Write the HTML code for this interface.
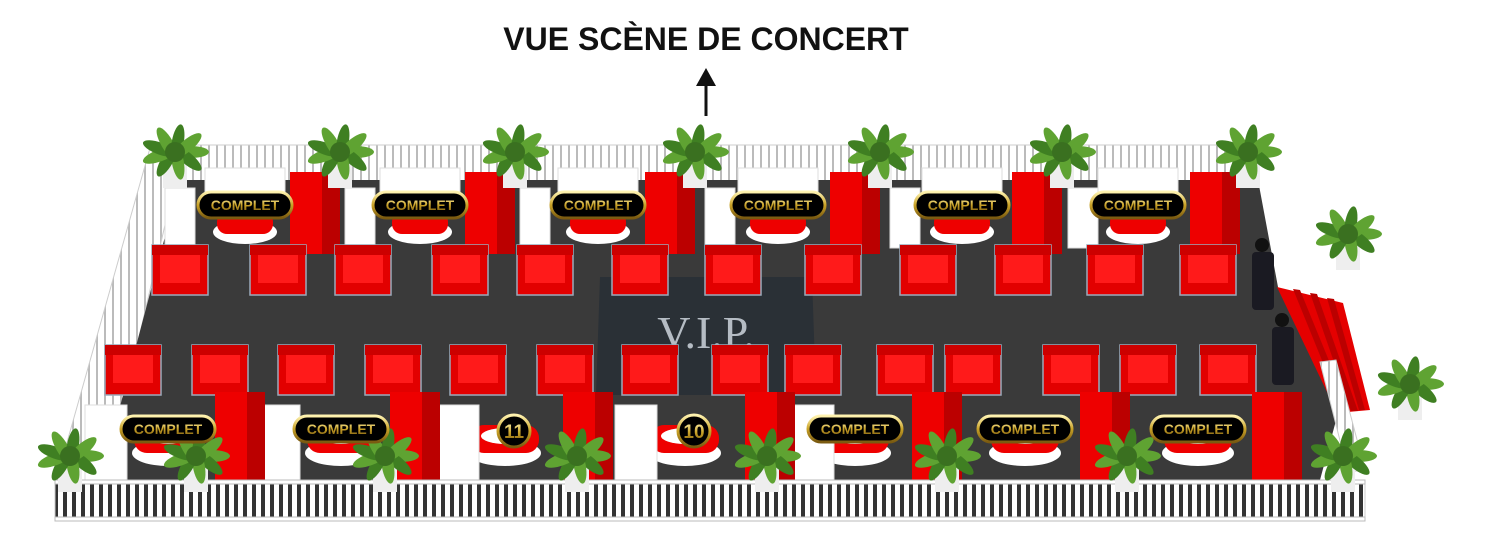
<!DOCTYPE html>
<html><head><meta charset="utf-8"><style>
html,body{margin:0;padding:0;background:#fff;width:1485px;height:557px;overflow:hidden}
svg{display:block}
.t{font-family:"Liberation Sans",sans-serif;font-weight:bold}
</style></head><body>
<svg id="s" width="1485" height="557" viewBox="0 0 1485 557" xmlns="http://www.w3.org/2000/svg">
<defs>
<linearGradient id="gold" x1="0" y1="0" x2="0" y2="1"><stop offset="0" stop-color="#fff3b0"/><stop offset=".5" stop-color="#c9a227"/><stop offset="1" stop-color="#7a5a10"/></linearGradient>
<pattern id="rail" width="8" height="10" patternUnits="userSpaceOnUse"><rect width="8" height="10" fill="#fff"/><rect x="0" width="2" height="10" fill="#bbb"/></pattern>
<pattern id="railD" width="9" height="10" patternUnits="userSpaceOnUse"><rect width="9" height="10" fill="#fff"/><rect x="0" width="4" height="10" fill="#333"/></pattern>
</defs>
<text x="706" y="50" text-anchor="middle" class="t" font-size="32" fill="#111">VUE SCÈNE DE CONCERT</text>
<line x1="706" y1="116" x2="706" y2="82" stroke="#111" stroke-width="3"/>
<polygon points="696,86 706,68 716,86" fill="#111"/>
<rect x="155" y="145" width="1100" height="38" fill="url(#rail)" stroke="#ccc"/>
<polygon points="150,148 180,160 105,485 55,485" fill="url(#rail)" stroke="#ccc"/>
<polygon points="180,180 1258,180 1278,287 1338,413 1320,480 100,482" fill="#3a3a3a"/>
<!-- stairs -->
<polygon points="1277,287 1343,303 1370,410 1337,413" fill="#e50000"/>
<polygon points="1293,289 1300,290 1350,412 1343,412" fill="#b00"/>
<polygon points="1310,293 1317,294 1358,411 1351,411" fill="#b00"/>
<polygon points="1327,298 1334,299 1365,410 1359,410" fill="#b00"/>
<polygon points="1320,362 1336,360 1365,470 1348,472" fill="url(#rail)" stroke="#ccc"/>
<polygon points="600,277 812,277 816,395 596,395" fill="#2a3036"/>
<text x="706" y="348" text-anchor="middle" font-family="Liberation Serif,serif" font-size="46" fill="#b5bcc4">V.I.P.</text>
<g id="g"></g>
<rect x="55" y="482" width="1310" height="38" fill="url(#railD)" stroke="#ccc"/>
<rect x="55" y="480" width="1310" height="4" fill="#fff" stroke="#bbb"/>
<rect x="55" y="517" width="1310" height="4" fill="#fff" stroke="#bbb"/>
<g id="p"></g>
<g id="b"></g>
<g class="t" font-size="14" fill="url(#gold)" text-anchor="middle">
<text x="245" y="210">COMPLET</text><text x="420" y="210">COMPLET</text><text x="598" y="210">COMPLET</text>
<text x="778" y="210">COMPLET</text><text x="962" y="210">COMPLET</text><text x="1138" y="210">COMPLET</text>
<text x="168" y="434">COMPLET</text><text x="341" y="434">COMPLET</text><text x="855" y="434">COMPLET</text>
<text x="1025" y="434">COMPLET</text><text x="1198" y="434">COMPLET</text>
<text x="514" y="438" font-size="19">11</text><text x="694" y="438" font-size="19">10</text>
</g>
</svg>
<script>
const NS="http://www.w3.org/2000/svg";
function el(p,t,a){const e=document.createElementNS(NS,t);for(const k in a)e.setAttribute(k,a[k]);document.getElementById(p).appendChild(e);return e;}
[245,420,598,778,962,1138].forEach(x=>{
 el('g','rect',{x:x-40,y:168,width:80,height:24,fill:'#fff',stroke:'#ddd'});
 el('g','ellipse',{cx:x,cy:232,rx:32,ry:12,fill:'#fff'});
 el('g','rect',{x:x-28,y:212,width:56,height:22,rx:10,fill:'#e00'});
});
[165,345,520,705,890,1068].forEach(x=>el('g','rect',{x:x,y:188,width:30,height:60,fill:'#fff',stroke:'#ddd'}));
[290,465,645,830,1012,1190].forEach(x=>{el('g','rect',{x:x,y:172,width:50,height:82,fill:'#e00'});el('g','rect',{x:x+32,y:172,width:18,height:82,fill:'#b00'});});
function chair(x,y){el('g','rect',{x:x,y:y,width:56,height:50,fill:'#e20000',stroke:'#9ab',"stroke-width":1.5});el('g','rect',{x:x+8,y:y+8,width:40,height:30,fill:'#ff1a1a'});el('g','rect',{x:x,y:y,width:56,height:10,fill:'#c00'});}
[152,250,335,432,517,612,705,805,900,995,1087,1180].forEach(x=>chair(x,245));
[105,192,278,365,450,537,622,712,785,877,945,1043,1120,1200].forEach(x=>chair(x,345));
[168,341,505,685,855,1025,1198].forEach(x=>{
 el('g','ellipse',{cx:x,cy:453,rx:36,ry:13,fill:'#fff'});
 el('g','rect',{x:x-34,y:425,width:68,height:28,rx:13,fill:'#e00'});
 el('g','ellipse',{cx:x,cy:436,rx:24,ry:8,fill:'#fff'});
});
[85,258,437,615,792].forEach(x=>el('g','rect',{x:x,y:405,width:42,height:75,fill:'#fff',stroke:'#ddd'}));
[215,390,563,745,912,1080,1252].forEach(x=>{el('g','rect',{x:x,y:392,width:50,height:90,fill:'#e00'});el('g','rect',{x:x+32,y:392,width:18,height:90,fill:'#b00'});});
[[1262,245],[1282,320]].forEach(([x,y])=>{el('g','circle',{cx:x,cy:y,r:7,fill:'#111'});el('g','rect',{x:x-10,y:y+7,width:22,height:58,rx:4,fill:'#1a1a22'});});
function plant(x,y,pot){ if(pot)el('p','rect',{x:x-12,y:y,width:24,height:30,fill:'#eee'});
 for(let i=0;i<9;i++){const a=i*Math.PI/4.5;el('p','ellipse',{cx:x+Math.cos(a)*16,cy:y-6+Math.sin(a)*10,rx:18,ry:6,fill:i%2?'#3f7f22':'#5fa332',transform:`rotate(${i*40} ${x+Math.cos(a)*16} ${y-6+Math.sin(a)*10})`});}
 el('p','circle',{cx:x,cy:y-6,r:10,fill:'#3a7020'});}
[[175,158],[340,158],[515,158],[695,158],[880,158],[1062,158],[1248,158]].forEach(p=>plant(p[0],p[1],1));
[[70,462],[196,462],[385,462],[577,462],[767,462],[947,462],[1127,462],[1343,462]].forEach(p=>plant(p[0],p[1],1));
plant(1348,240,1);plant(1410,390,1);
[245,420,598,778,962,1138].forEach(x=>el('b','rect',{x:x-47,y:192,width:94,height:26,rx:13,fill:'#000',stroke:'url(#gold)',"stroke-width":3}));
[168,341,855,1025,1198].forEach(x=>el('b','rect',{x:x-47,y:416,width:94,height:26,rx:13,fill:'#000',stroke:'url(#gold)',"stroke-width":3}));
[514,694].forEach(x=>el('b','circle',{cx:x,cy:431,r:16,fill:'#000',stroke:'url(#gold)',"stroke-width":3}));
</script>
</body></html>
